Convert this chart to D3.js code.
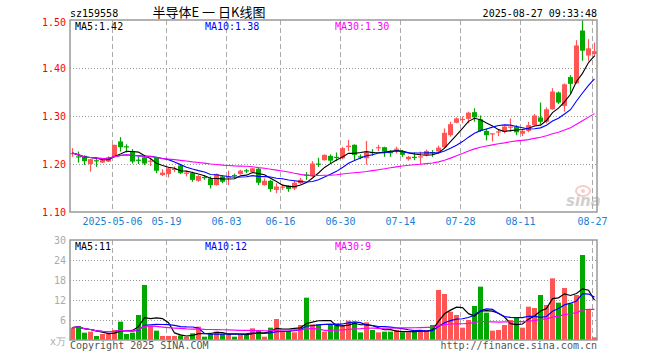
<!DOCTYPE html>
<html lang="zh">
<head>
<meta charset="UTF-8">
<title>sz159558 半导体E 日K线图</title>
<script src="https://d3js.org/d3.v7.min.js"></script>
<style>
  body { margin: 0; background: #fff; }
  svg { display: block; }
  text { font-family: "DejaVu Sans Mono", "Liberation Mono", monospace; font-size: 10px; }
</style>
</head>
<body>
<svg id="vis" width="660" height="360"></svg>
<script>
// trading days shown on the chart
const dates = [
  "2025-04-22","2025-04-23","2025-04-24","2025-04-25","2025-04-28","2025-04-29","2025-04-30",
  "2025-05-06","2025-05-07","2025-05-08","2025-05-09","2025-05-12","2025-05-13","2025-05-14","2025-05-15","2025-05-16",
  "2025-05-19","2025-05-20","2025-05-21","2025-05-22","2025-05-23","2025-05-26","2025-05-27","2025-05-28","2025-05-29","2025-05-30",
  "2025-06-03","2025-06-04","2025-06-05","2025-06-06","2025-06-09","2025-06-10","2025-06-11","2025-06-12","2025-06-13",
  "2025-06-16","2025-06-17","2025-06-18","2025-06-19","2025-06-20","2025-06-23","2025-06-24","2025-06-25","2025-06-26","2025-06-27",
  "2025-06-30","2025-07-01","2025-07-02","2025-07-03","2025-07-04","2025-07-07","2025-07-08","2025-07-09","2025-07-10","2025-07-11",
  "2025-07-14","2025-07-15","2025-07-16","2025-07-17","2025-07-18","2025-07-21","2025-07-22","2025-07-23","2025-07-24","2025-07-25",
  "2025-07-28","2025-07-29","2025-07-30","2025-07-31","2025-08-01","2025-08-04","2025-08-05","2025-08-06","2025-08-07","2025-08-08",
  "2025-08-11","2025-08-12","2025-08-13","2025-08-14","2025-08-15","2025-08-18","2025-08-19","2025-08-20","2025-08-21","2025-08-22",
  "2025-08-25","2025-08-26","2025-08-27"
];
const open = [
  1.222,1.216,1.217,1.200,1.208,1.203,1.205,1.215,1.247,1.237,1.226,1.209,1.214,1.206,1.214,1.177,
  1.179,1.189,1.197,1.181,1.181,1.165,1.173,1.170,1.156,1.174,1.172,1.177,1.179,1.187,1.183,1.190,
  1.156,1.165,1.146,1.152,1.155,1.149,1.160,1.178,1.174,1.201,1.208,1.217,1.215,1.212,1.237,1.240,
  1.216,1.212,1.225,1.234,1.235,1.225,1.231,1.227,1.210,1.215,1.215,1.219,1.225,1.226,1.235,1.260,
  1.286,1.293,1.294,1.308,1.293,1.269,1.263,1.267,1.267,1.277,1.278,1.263,1.269,1.281,1.297,1.288,
  1.314,1.349,1.321,1.381,1.368,1.478,1.426,1.429
];
const high = [
  1.233,1.226,1.218,1.211,1.214,1.210,1.216,1.240,1.256,1.241,1.231,1.215,1.219,1.212,1.215,1.189,
  1.194,1.195,1.200,1.186,1.184,1.177,1.177,1.174,1.180,1.176,1.186,1.180,1.188,1.190,1.192,1.192,
  1.170,1.167,1.160,1.158,1.156,1.165,1.171,1.183,1.206,1.213,1.220,1.220,1.224,1.236,1.250,1.241,
  1.220,1.248,1.231,1.240,1.236,1.229,1.236,1.229,1.217,1.224,1.226,1.230,1.229,1.238,1.274,1.288,
  1.297,1.299,1.309,1.316,1.301,1.274,1.264,1.272,1.279,1.295,1.281,1.272,1.288,1.304,1.328,1.318,
  1.358,1.351,1.368,1.385,1.458,1.500,1.460,1.453
];
const low = [
  1.215,1.203,1.198,1.184,1.194,1.202,1.204,1.215,1.226,1.224,1.201,1.200,1.198,1.196,1.181,1.175,
  1.172,1.183,1.179,1.174,1.163,1.163,1.167,1.149,1.155,1.160,1.156,1.173,1.178,1.181,1.181,1.156,
  1.155,1.142,1.139,1.146,1.142,1.146,1.158,1.167,1.173,1.194,1.207,1.201,1.206,1.210,1.227,1.208,
  1.210,1.199,1.217,1.227,1.215,1.215,1.222,1.215,1.207,1.208,1.200,1.216,1.215,1.224,1.233,1.257,
  1.285,1.285,1.285,1.288,1.267,1.249,1.247,1.258,1.264,1.267,1.260,1.258,1.266,1.280,1.283,1.285,
  1.313,1.325,1.309,1.346,1.367,1.415,1.415,1.424
];
const close = [
  1.223,1.215,1.206,1.210,1.207,1.208,1.214,1.240,1.235,1.236,1.205,1.208,1.201,1.207,1.186,1.182,
  1.191,1.190,1.181,1.182,1.167,1.175,1.172,1.156,1.179,1.163,1.173,1.176,1.186,1.186,1.191,1.161,
  1.165,1.148,1.153,1.153,1.148,1.161,1.167,1.177,1.201,1.200,1.219,1.207,1.214,1.233,1.238,1.219,
  1.215,1.224,1.224,1.235,1.226,1.224,1.232,1.219,1.215,1.214,1.216,1.227,1.224,1.234,1.265,1.283,
  1.295,1.294,1.307,1.297,1.269,1.260,1.264,1.268,1.278,1.278,1.266,1.269,1.281,1.301,1.288,1.314,
  1.351,1.328,1.366,1.367,1.447,1.436,1.441,1.435
];
// volume in 万
const volume = [
  3.7,4.2,2.2,2.5,1.2,1.8,1.8,3.0,5.5,1.8,2.2,7.5,16.5,4.2,2.8,1.2,
  1.2,1.2,1.4,1.0,2.0,4.0,1.0,1.8,2.5,1.8,1.8,1.0,1.5,1.8,3.5,2.8,
  1.0,3.7,6.3,2.5,2.7,2.3,4.5,12.7,4.7,4.7,2.5,4.5,5.0,4.5,5.8,5.3,
  2.3,5.3,3.0,2.3,2.5,2.5,3.0,2.3,2.3,2.5,3.0,3.0,4.5,15.0,13.8,8.5,
  7.5,3.7,6.0,10.2,16.0,8.2,2.8,3.0,4.5,6.0,6.8,3.7,10.0,9.6,13.5,10.5,
  18.5,11.2,15.6,11.0,13.5,25.5,9.0,0.8
];
const tickDates = ["2025-05-06","2025-05-19","2025-06-03","2025-06-16","2025-06-30","2025-07-14","2025-07-28","2025-08-11","2025-08-27"];
const tickLabels = ["2025-05-06","05-19","06-03","06-16","06-30","07-14","07-28","08-11","08-27"];
const priceTicks = [1.10, 1.20, 1.30, 1.40, 1.50];
const volTicks = [6, 12, 18, 24, 30];
const maPeriods = [5, 10, 30];
const maColors = ["#000000", "#0000ff", "#ff00ff"];
const priceMaText = ["MA5:1.42", "MA10:1.38", "MA30:1.30"];
const volMaText = ["MA5:11", "MA10:12", "MA30:9"];

const RED = "#ff5555", GREEN = "#00a800";
const L = 70, R = 597;
const PT = 20, PB = 212, VT = 240, VB = 340;

const svg = d3.select("#vis");

const x = d3.scaleBand().domain(dates).range([L, L + 6 * dates.length]);
const cx = d => x(d) + 2.5;
const y = d3.scaleLinear().domain([1.10, 1.50]).range([PB, PT]);
const yv = d3.scaleLinear().domain([0, 30]).range([VB, VT]);

const rows = dates.map((d, i) => ({
  date: d, o: open[i], h: high[i], l: low[i], c: close[i], v: volume[i],
  up: close[i] >= open[i]
}));

function ma(arr, n) {
  return arr.map((_, i) => d3.mean(arr.slice(Math.max(0, i - n + 1), i + 1)));
}

// titles
svg.append("text").attr("x", L).attr("y", 17).text("sz159558");
svg.append("text").attr("x", 209).attr("y", 17).attr("text-anchor", "middle")
  .style("font-family", "'Noto Sans CJK SC', sans-serif").style("font-size", "13px")
  .text("半导体E 一 日K线图");
svg.append("text").attr("x", R).attr("y", 17).attr("text-anchor", "end").text("2025-08-27 09:33:48");

// grid lines
const grid = svg.append("g");
[[PT, PB], [VT, VB]].forEach(([t, b]) => {
  grid.selectAll(null).data(tickDates).join("line")
    .attr("x1", d => Math.round(x(d)) + 0.5).attr("x2", d => Math.round(x(d)) + 0.5)
    .attr("y1", t).attr("y2", b)
    .attr("stroke", "#aaa").attr("stroke-dasharray", "5,3");
});
grid.selectAll(null).data([1.20, 1.30, 1.40]).join("line")
  .attr("x1", L).attr("x2", R).attr("y1", d => Math.round(y(d)) + 0.5).attr("y2", d => Math.round(y(d)) + 0.5)
  .attr("stroke", "#999").attr("stroke-dasharray", "1,2");
grid.selectAll(null).data([6, 12, 18, 24]).join("line")
  .attr("x1", L).attr("x2", R).attr("y1", d => Math.round(yv(d)) + 0.5).attr("y2", d => Math.round(yv(d)) + 0.5)
  .attr("stroke", "#999").attr("stroke-dasharray", "1,2");

// sina watermark
const wm = svg.append("g").attr("opacity", 0.55);
wm.append("ellipse").attr("cx", 583).attr("cy", 191).attr("rx", 7).attr("ry", 5)
  .attr("fill", "none").attr("stroke", "#f4a0a0").attr("stroke-width", 2);
wm.append("circle").attr("cx", 583).attr("cy", 191).attr("r", 2).attr("fill", "#f4a0a0");
wm.append("text").attr("x", 566).attr("y", 206)
  .style("font-family", "'DejaVu Sans', sans-serif").style("font-size", "15px")
  .style("font-weight", "bold").style("font-style", "italic").attr("fill", "#aaa").text("sina");

// price axis labels
svg.append("g").selectAll("text").data(priceTicks).join("text")
  .attr("x", 66).attr("y", d => Math.max(y(d), 22) + 3.5).attr("text-anchor", "end")
  .attr("fill", "#ff0000").text(d => d.toFixed(2));

// volume axis labels
svg.append("g").selectAll("text").data(volTicks).join("text")
  .attr("x", 66).attr("y", d => yv(d) + 3.5).attr("text-anchor", "end")
  .attr("fill", "#aaa").text(d => d);
svg.append("text").attr("x", 66).attr("y", 345).attr("text-anchor", "end")
  .attr("fill", "#aaa").text("x万");

// date labels
svg.append("g").selectAll("text").data(tickDates).join("text")
  .attr("x", d => x(d) + 0.5).attr("y", 225).attr("text-anchor", "middle")
  .attr("fill", "#1a80d6").text((d, i) => tickLabels[i]);

// clip paths
const defs = svg.append("defs");
defs.append("clipPath").attr("id", "clipP").append("rect").attr("x", L).attr("y", PT).attr("width", R - L).attr("height", PB - PT);
defs.append("clipPath").attr("id", "clipV").append("rect").attr("x", L).attr("y", VT).attr("width", R - L).attr("height", VB - VT);

// candles
const candles = svg.append("g").attr("clip-path", "url(#clipP)");
candles.selectAll("line").data(rows).join("line")
  .attr("x1", d => x(d.date) + 2.5).attr("x2", d => x(d.date) + 2.5)
  .attr("y1", d => y(d.h)).attr("y2", d => y(d.l))
  .attr("stroke", d => d.up ? RED : GREEN).attr("stroke-width", 1.2);
candles.selectAll("rect").data(rows).join("rect")
  .attr("x", d => x(d.date)).attr("width", 5)
  .attr("y", d => y(Math.max(d.o, d.c)))
  .attr("height", d => Math.max(1.2, Math.abs(y(d.o) - y(d.c))))
  .attr("fill", d => d.up ? RED : GREEN);

// volume bars
const vol = svg.append("g").attr("clip-path", "url(#clipV)");
vol.selectAll("rect").data(rows).join("rect")
  .attr("x", d => x(d.date)).attr("width", 5)
  .attr("y", d => yv(d.v)).attr("height", d => VB - yv(d.v))
  .attr("fill", d => d.up ? RED : GREEN);

// moving averages
maPeriods.forEach((n, k) => {
  const pm = ma(close, n);
  candles.append("path")
    .attr("d", d3.line().x((_, i) => cx(dates[i])).y(v => y(v))(pm))
    .attr("fill", "none").attr("stroke", maColors[k]).attr("stroke-width", 1.1);
  const vm = ma(volume, n);
  vol.append("path")
    .attr("d", d3.line().x((_, i) => cx(dates[i])).y(v => yv(v))(vm))
    .attr("fill", "none").attr("stroke", maColors[k]).attr("stroke-width", 1.2);
});

// frames
[[PT, PB], [VT, VB]].forEach(([t, b]) => {
  svg.append("rect").attr("x", L).attr("y", t).attr("width", R - L).attr("height", b - t)
    .attr("fill", "none").attr("stroke", "#999").attr("stroke-width", 1.5);
});

// legends
const legX = [75, 205, 335];
priceMaText.forEach((t, k) => {
  svg.append("text").attr("x", legX[k]).attr("y", 30).attr("fill", maColors[k]).text(t);
});
volMaText.forEach((t, k) => {
  svg.append("text").attr("x", legX[k]).attr("y", 250).attr("fill", maColors[k]).text(t);
});

// footer
svg.append("text").attr("x", L).attr("y", 349).attr("fill", "#555").text("Copyright 2025 SINA.COM");
svg.append("text").attr("x", R).attr("y", 349).attr("text-anchor", "end").attr("fill", "#555").text("http://finance.sina.com.cn");
</script>
</body>
</html>
